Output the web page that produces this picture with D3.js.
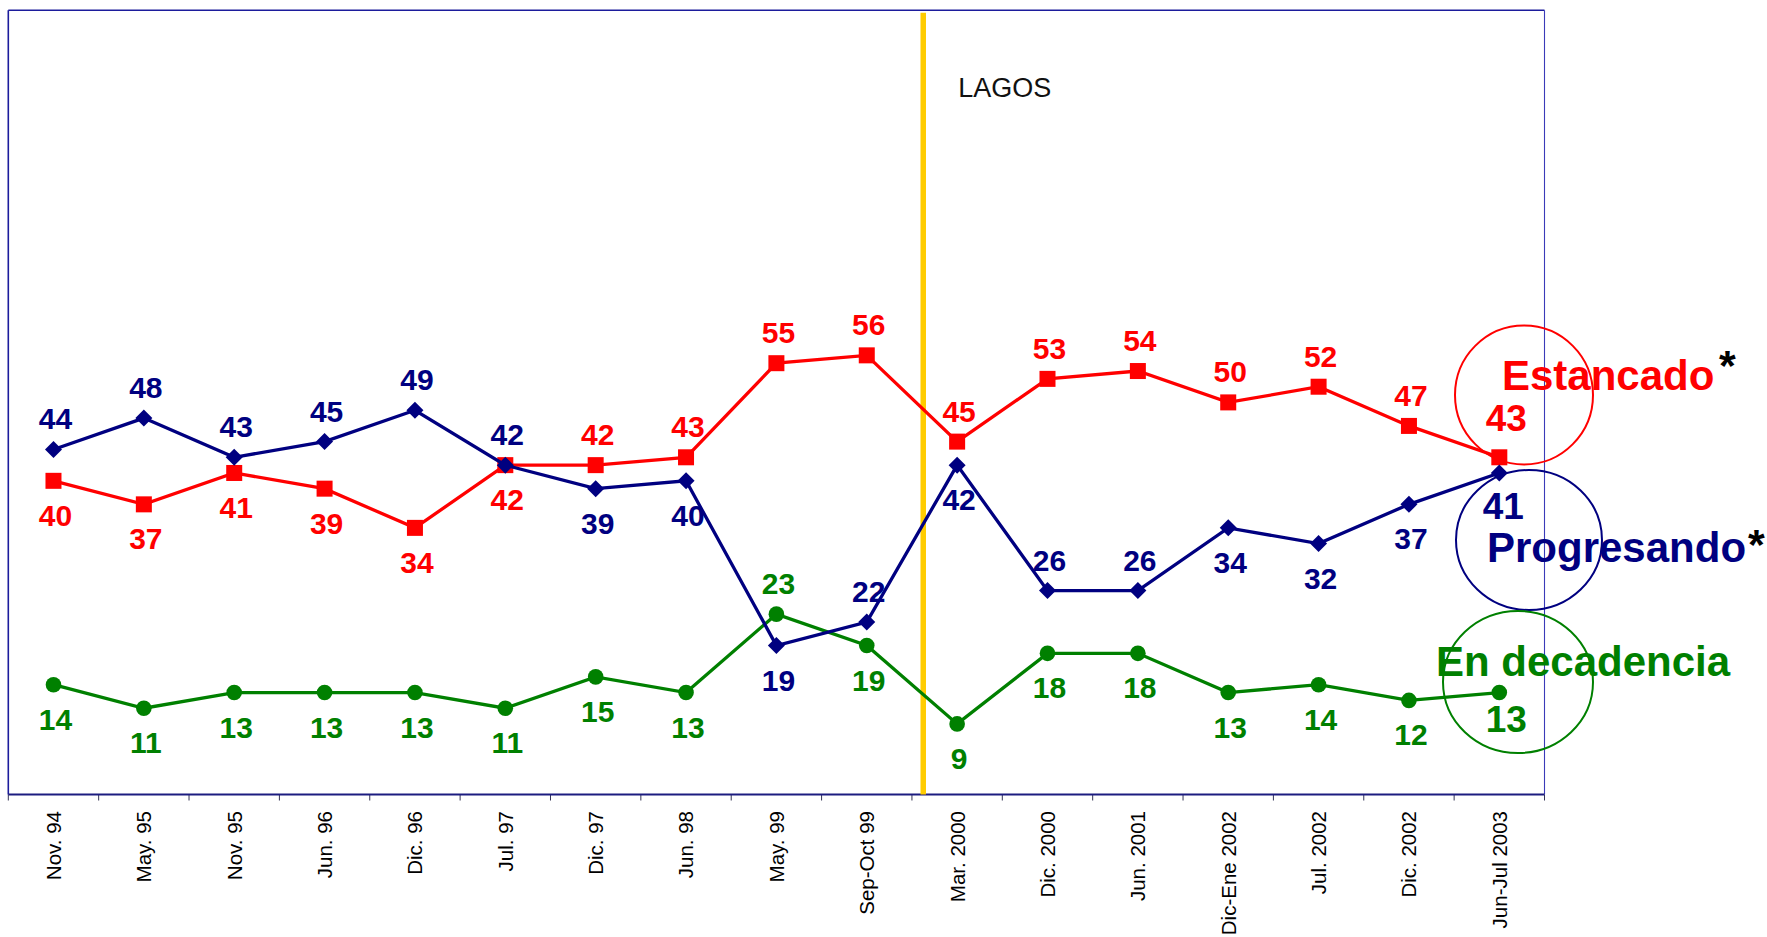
<!DOCTYPE html>
<html>
<head>
<meta charset="utf-8">
<script src="https://cdn.jsdelivr.net/npm/d3@7"></script>
<style>
  html, body { margin: 0; padding: 0; background: #ffffff; }
  svg { display: block; }
  text { font-family: "Liberation Sans", Arial, Helvetica, sans-serif; }
</style>
</head>
<body>
<svg id="chart" width="1767" height="937"></svg>
<script>
// ---- data ----
const categories = ["Nov. 94", "May. 95", "Nov. 95", "Jun. 96", "Dic. 96", "Jul. 97", "Dic. 97", "Jun. 98", "May. 99", "Sep-Oct 99", "Mar. 2000", "Dic. 2000", "Jun. 2001", "Dic-Ene 2002", "Jul. 2002", "Dic. 2002", "Jun-Jul 2003"];
const estancado    = [40, 37, 41, 39, 34, 42, 42, 43, 55, 56, 45, 53, 54, 50, 52, 47, 43];
const progresando  = [44, 48, 43, 45, 49, 42, 39, 40, 19, 22, 42, 26, 26, 34, 32, 37, 41];
const decadencia   = [14, 11, 13, 13, 13, 11, 15, 13, 23, 19, 9, 18, 18, 13, 14, 12, 13];
const seriesNames  = ["Estancado", "Progresando", "En decadencia"];
const periodLabel  = "LAGOS";
const periodStart  = "Mar. 2000";

// label placement: a = above, b = below, e = enlarged end label
const estPlace  = ["b","b","b","b","b","b","a","a","a","a","a","a","a","a","a","a","e"];
const progPlace = ["a","a","a","a","a","a","b","b","b","a","b","a","a","b","b","b","e"];
const decPlace  = ["b","b","b","b","b","b","b","b","a","b","b","b","b","b","b","b","e"];

(function () {
// ---- layout ----
const svg = d3.select("#chart");
const pL = 8.3, pR = 1544.5, pT = 10.3, pB = 794.5;

const x = d3.scaleBand().domain(categories).range([pL, pR]).padding(0);
const y = d3.scaleLinear().domain([0, 100]).range([pB, pT]);
const cx = d => x(d) + x.bandwidth() / 2;

const RED = "#ff0000", NAVY = "#000080", GREEN = "#008000", YELLOW = "#ffcc00";

// plot frame
svg.append("line").attr("x1", pL).attr("x2", pR).attr("y1", pT).attr("y2", pT)
  .attr("stroke", "#1c1c9c").attr("stroke-width", 1.6);
svg.append("line").attr("x1", pL).attr("x2", pL).attr("y1", pT).attr("y2", pB)
  .attr("stroke", "#1c1c9c").attr("stroke-width", 1.6);
svg.append("line").attr("x1", pR).attr("x2", pR).attr("y1", pT).attr("y2", pB)
  .attr("stroke", "#3a3ab8").attr("stroke-width", 1.1);

// x axis: labels via d3 axis
const axisG = svg.append("g").attr("transform", `translate(0,${pB})`)
  .call(d3.axisBottom(x).tickSize(0).tickPadding(0));
axisG.select(".domain").remove();
axisG.selectAll(".tick text")
  .attr("transform", "translate(0,16.5) rotate(-90)")
  .attr("text-anchor", "end")
  .attr("x", 0).attr("y", 0).attr("dy", "0.36em")
  .attr("font-size", 20.5)
  .attr("fill", "#000")
  .style("font-family", '"Liberation Sans", Arial, sans-serif');

// boundary ticks
const bounds = categories.map(c => x(c)).concat([pR]);
svg.append("g").selectAll("line").data(bounds).join("line")
  .attr("x1", d => d).attr("x2", d => d)
  .attr("y1", pB).attr("y2", pB + 6)
  .attr("stroke", "#333355").attr("stroke-width", 1);

svg.append("line").attr("x1", pL).attr("x2", pR).attr("y1", pB).attr("y2", pB)
  .attr("stroke", "#1c1c80").attr("stroke-width", 1.8);

// yellow period divider
const divX = x(periodStart) + x.bandwidth() * 0.125;
svg.append("line").attr("x1", divX).attr("x2", divX).attr("y1", pT + 2.5).attr("y2", pB)
  .attr("stroke", YELLOW).attr("stroke-width", 5.5);
svg.append("text").attr("x", cx(periodStart) + 1).attr("y", 97)
  .attr("font-size", 27).attr("fill", "#111").text(periodLabel);

// series
const line = d3.line().x((d, i) => cx(categories[i])).y(d => y(d));

function drawSeries(vals, color, marker) {
  svg.append("path").datum(vals).attr("d", line)
    .attr("fill", "none").attr("stroke", color).attr("stroke-width", 3.3)
    .attr("stroke-linejoin", "miter");
  const g = svg.append("g");
  if (marker === "square") {
    g.selectAll("rect").data(vals).join("rect")
      .attr("x", (d, i) => cx(categories[i]) - 8).attr("y", d => y(d) - 8)
      .attr("width", 16).attr("height", 16).attr("fill", color);
  } else if (marker === "diamond") {
    g.selectAll("path").data(vals).join("path")
      .attr("transform", (d, i) => `translate(${cx(categories[i])},${y(d)})`)
      .attr("d", "M0,-8.5L8.5,0L0,8.5L-8.5,0Z").attr("fill", color);
  } else {
    g.selectAll("circle").data(vals).join("circle")
      .attr("cx", (d, i) => cx(categories[i])).attr("cy", d => y(d))
      .attr("r", 7.8).attr("fill", color);
  }
}

function drawLabels(vals, place, color, endOffset) {
  svg.append("g").selectAll("text").data(vals).join("text")
    .attr("x", (d, i) => cx(categories[i]) + (place[i] === "e" ? endOffset[0] : 2))
    .attr("y", (d, i) => y(d) + (place[i] === "a" ? -20 : place[i] === "b" ? 45 : endOffset[1]))
    .attr("text-anchor", "middle")
    .attr("font-weight", "bold")
    .attr("font-size", (d, i) => place[i] === "e" ? 37 : 30)
    .attr("fill", color)
    .text(d => d);
}

drawSeries(decadencia, GREEN, "circle");
drawSeries(estancado, RED, "square");
drawSeries(progresando, NAVY, "diamond");

drawLabels(estancado, estPlace, RED, [7, -26]);
drawLabels(progresando, progPlace, NAVY, [4, 46]);
drawLabels(decadencia, decPlace, GREEN, [7, 39]);

// highlight circles around last values
const ann = svg.append("g").attr("fill", "none").attr("stroke-width", 2);
ann.append("ellipse").attr("cx", 1524).attr("cy", 395).attr("rx", 69).attr("ry", 69.5).attr("stroke", RED);
ann.append("ellipse").attr("cx", 1529).attr("cy", 540).attr("rx", 73).attr("ry", 70).attr("stroke", NAVY);
ann.append("ellipse").attr("cx", 1518).attr("cy", 682).attr("rx", 75).attr("ry", 71).attr("stroke", GREEN);

// series names
const nm = svg.append("g").attr("font-weight", "bold");
nm.append("text").attr("x", 1502).attr("y", 390).attr("font-size", 42).attr("fill", RED).text(seriesNames[0]);
nm.append("text").attr("x", 1719).attr("y", 380).attr("font-size", 43).attr("fill", "#000").text("*");
nm.append("text").attr("x", 1487).attr("y", 562).attr("font-size", 42).attr("fill", NAVY).text(seriesNames[1]);
nm.append("text").attr("x", 1748).attr("y", 559).attr("font-size", 43).attr("fill", "#000").text("*");
nm.append("text").attr("x", 1436).attr("y", 676).attr("font-size", 42).attr("fill", GREEN).text(seriesNames[2]);
})();
</script>
</body>
</html>
